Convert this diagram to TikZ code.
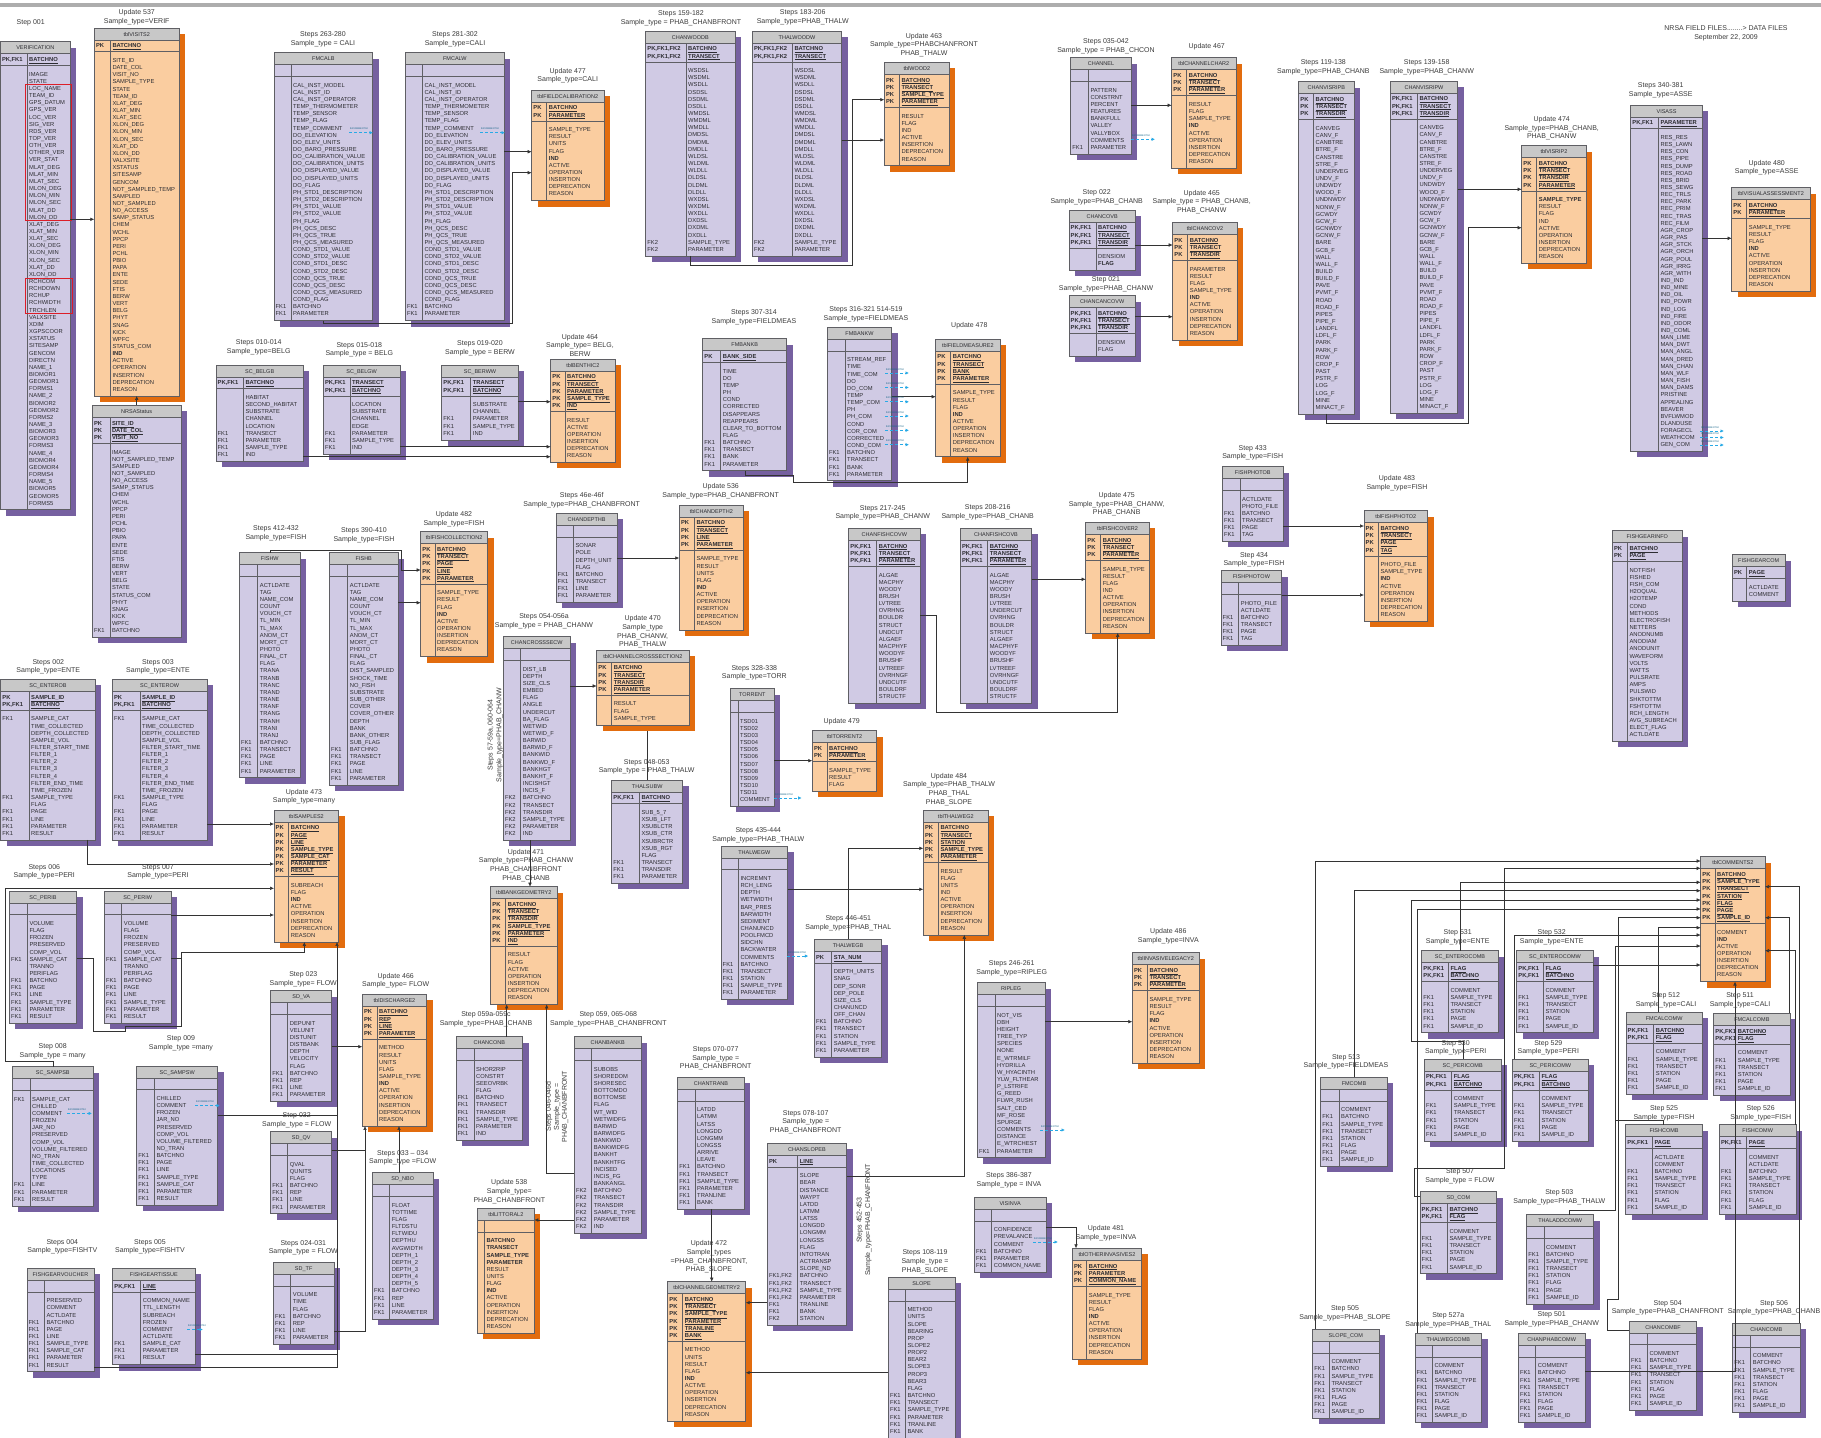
\documentclass[tikz,border=0pt]{standalone}
\usepackage{fontspec}
\setmainfont{Liberation Sans}
\usetikzlibrary{arrows.meta,fit}
\definecolor{Pfill}{RGB}{208,202,228}
\definecolor{Pshadow}{RGB}{118,96,160}
\definecolor{Ofill}{RGB}{250,205,160}
\definecolor{Oshadow}{RGB}{226,108,14}
\definecolor{ttlgray}{RGB}{200,200,200}
\definecolor{tline}{RGB}{95,95,100}
\definecolor{txt}{RGB}{45,45,50}
\definecolor{lbltxt}{RGB}{60,60,60}
\definecolor{cmtblue}{RGB}{40,170,230}
\definecolor{redbox}{RGB}{220,30,40}
\tikzset{
 tblline/.style={draw=tline, line width=0.5pt},
 tbltxt/.style={anchor=base west, inner sep=0pt, font=\fontsize{5.8}{7}\selectfont, text=txt},
 tbltitle/.style={anchor=base, inner sep=0pt, font=\fontsize{5.5}{7}\selectfont, text=txt},
 lbl/.style={anchor=base, inner sep=0pt, font=\fontsize{7}{8.6}\selectfont, text=lbltxt},
 conn/.style={draw=black!80, line width=0.55pt, -{Latex[length=4pt,width=3.6pt]}},
 wire/.style={draw=black!80, line width=0.55pt},
 cmt/.style={draw=cmtblue, line width=0.8pt, dash pattern=on 3pt off 2pt, -{Latex[length=3.5pt,width=3.5pt]}},
 cmtlbl/.style={anchor=base, inner sep=0pt, font=\fontsize{2.4}{3}\selectfont, text=cmtblue!60!black},
}
\newcount\tblnk \newcount\tblnb
\def\PF{PK,FK1}\def\PFF{PK,FK1,FK2}\def\FF{FK1,FK2}
\newcommand\dbtable[9]{%
  \global\tblnk=0 \global\tblnb=0
  \def\tblkeys{#7}%
  \ifx\tblkeys\empty\else\foreach \tKey/\tNam in {#7}{\global\advance\tblnk by 1 }\fi
  \foreach \tKey/\tNam in {#8}{\global\advance\tblnb by 1 }%
  \ifnum\tblnk=0 \def\tblnkeff{1}\else\edef\tblnkeff{\the\tblnk}\fi
  \pgfmathsetmacro\tXa{#2}%
  \pgfmathsetmacro\tYa{#3}%
  \pgfmathsetmacro\tXb{#2+#4}%
  \pgfmathsetmacro\tXk{#2+#5}%
  \pgfmathsetmacro\tYt{#3+12}%
  \pgfmathsetmacro\tYk{\tYt+4.5+\tblnkeff*7.15}%
  \pgfmathsetmacro\tYb{\tYk+8.2+\the\tblnb*7.15}%
  \fill[#9shadow] (\tXa+6,\tYa+6) rectangle (\tXb+6,\tYb+6);
  \fill[#9fill] (\tXa,\tYa) rectangle (\tXb,\tYb);
  \fill[ttlgray] (\tXa,\tYa) rectangle (\tXb,\tYt);
  \draw[tblline] (\tXa,\tYa) rectangle (\tXb,\tYb);
  \draw[tblline] (\tXa,\tYt) -- (\tXb,\tYt) (\tXa,\tYk) -- (\tXb,\tYk) (\tXk,\tYt) -- (\tXk,\tYb);
  \node[tbltitle] at ({(\tXa+\tXb)/2},\tYt-3.95) {#6};
  \ifx\tblkeys\empty\else
  \foreach \tKey/\tNam [count=\tIdx from 0] in {#7}{%
    \node[tbltxt] at (\tXa+1.5,\tYt+2.25+5.6+\tIdx*7.15) {\textbf{\tKey}};
    \node[tbltxt] at (\tXk+2,\tYt+2.25+5.6+\tIdx*7.15) {\textbf{\underline{\tNam}}};
  }\fi
  \foreach \tKey/\tNam [count=\tIdx from 0] in {#8}{%
    \node[tbltxt] at (\tXa+1.5,\tYk+5.2+5.6+\tIdx*7.15) {\tKey};
    \node[tbltxt] at (\tXk+2,\tYk+5.2+5.6+\tIdx*7.15) {\tNam};
  }%
  \path (\tXa,\tYa) coordinate (#1-nw) (\tXb,\tYb) coordinate (#1-se);
  \node[inner sep=0pt, outer sep=0pt, fit=(#1-nw)(#1-se)] (#1) {};
}
\newcommand\lab[3]{\foreach \lLine [count=\lIdx from 0] in {#3}{\node[lbl] at (#1,#2+\lIdx*8.6+2.5) {\lLine};}}
\newcommand\cmtarrow[3]{\draw[cmt] (#1,#3) -- (#2,#3); \node[cmtlbl] at ({#1+10},#3-3) {tblCOMMENTS2};}
\begin{document}
\catcode`\_=12
\begin{tikzpicture}[x=1pt,y=-1pt]
\useasboundingbox (0,0) rectangle (1821,1438);
\fill[white] (0,0) rectangle (1821,1438);
\fill[black!32] (0,3.3) rectangle (1821,6.7);

% ---------------- top-left
\dbtable{VERIFICATION}{0.3}{41.7}{70}{26.7}{VERIFICATION}{\PF/BATCHNO}{/IMAGE,/STATE,/LOC_NAME,/TEAM_ID,/GPS_DATUM,/GPS_VER,/LOC_VER,/SIG_VER,/RDS_VER,/TOP_VER,/OTH_VER,/OTHER_VER,/VER_STAT,/MLAT_DEG,/MLAT_MIN,/MLAT_SEC,/MLON_DEG,/MLON_MIN,/MLON_SEC,/MLAT_DD,/MLON_DD,/XLAT_DEG,/XLAT_MIN,/XLAT_SEC,/XLON_DEG,/XLON_MIN,/XLON_SEC,/XLAT_DD,/XLON_DD,/RCHCOM,/RCHDOWN,/RCHUP,/RCHWIDTH,/TRCHLEN,/VALXSITE,/XDIM,/XGPSCOOR,/XSTATUS,/SITESAMP,/GENCOM,/DIRECTN,/NAME_1,/BIOMOR1,/GEOMOR1,/FORMS1,/NAME_2,/BIOMOR2,/GEOMOR2,/FORMS2,/NAME_3,/BIOMOR3,/GEOMOR3,/FORMS3,/NAME_4,/BIOMOR4,/GEOMOR4,/FORMS4,/NAME_5,/BIOMOR5,/GEOMOR5,/FORMS5}{P}
\draw[redbox, line width=0.8pt] (25,84.5) rectangle (71.5,220.7) (25,277.9) rectangle (72,313.7);
\dbtable{tbVISITS2}{94.3}{28}{85}{16}{tblVISITS2}{PK/BATCHNO}{/SITE_ID,/DATE_COL,/VISIT_NO,/SAMPLE_TYPE,/STATE,/TEAM_ID,/XLAT_DEG,/XLAT_MIN,/XLAT_SEC,/XLON_DEG,/XLON_MIN,/XLON_SEC,/XLAT_DD,/XLON_DD,/VALXSITE,/XSTATUS,/SITESAMP,/GENCOM,/NOT_SAMPLED_TEMP,/SAMPLED,/NOT_SAMPLED,/NO_ACCESS,/SAMP_STATUS,/CHEM,/WCHL,/PPCP,/PERI,/PCHL,/PBIO,/PAPA,/ENTE,/SEDE,/FTIS,/BERW,/VERT,/BELG,/PHYT,/SNAG,/KICK,/WPFC,/STATUS_COM,/\textbf{IND},/ACTIVE,/OPERATION,/INSERTION,/DEPRECATION,/REASON}{O}
\dbtable{NRSAStatus}{92.3}{405.3}{88.7}{17.5}{NRSAStatus}{PK/SITE_ID,PK/DATE_COL,PK/VISIT_NO}{/IMAGE,/NOT_SAMPLED_TEMP,/SAMPLED,/NOT_SAMPLED,/NO_ACCESS,/SAMP_STATUS,/CHEM,/WCHL,/PPCP,/PERI,/PCHL,/PBIO,/PAPA,/ENTE,/SEDE,/FTIS,/BERW,/VERT,/BELG,/STATE,/STATUS_COM,/PHYT,/SNAG,/KICK,/WPFC,FK1/BATCHNO}{P}
\dbtable{FMCALB}{274}{52.7}{98.7}{17}{FMCALB}{}{/CAL_INST_MODEL,/CAL_INST_ID,/CAL_INST_OPERATOR,/TEMP_THERMOMETER,/TEMP_SENSOR,/TEMP_FLAG,/TEMP_COMMENT,/DO_ELEVATION,/DO_ELEV_UNITS,/DO_BARO_PRESSURE,/DO_CALIBRATION_VALUE,/DO_CALIBRATION_UNITS,/DO_DISPLAYED_VALUE,/DO_DISPLAYED_UNITS,/DO_FLAG,/PH_STD1_DESCRIPTION,/PH_STD2_DESCRIPTION,/PH_STD1_VALUE,/PH_STD2_VALUE,/PH_FLAG,/PH_QCS_DESC,/PH_QCS_TRUE,/PH_QCS_MEASURED,/COND_STD1_VALUE,/COND_STD2_VALUE,/COND_STD1_DESC,/COND_STD2_DESC,/COND_QCS_TRUE,/COND_QCS_DESC,/COND_QCS_MEASURED,/COND_FLAG,FK1/BATCHNO,FK1/PARAMETER}{P}
\dbtable{FMCALW}{405.3}{52.7}{99}{17}{FMCALW}{}{/CAL_INST_MODEL,/CAL_INST_ID,/CAL_INST_OPERATOR,/TEMP_THERMOMETER,/TEMP_SENSOR,/TEMP_FLAG,/TEMP_COMMENT,/DO_ELEVATION,/DO_ELEV_UNITS,/DO_BARO_PRESSURE,/DO_CALIBRATION_VALUE,/DO_CALIBRATION_UNITS,/DO_DISPLAYED_VALUE,/DO_DISPLAYED_UNITS,/DO_FLAG,/PH_STD1_DESCRIPTION,/PH_STD2_DESCRIPTION,/PH_STD1_VALUE,/PH_STD2_VALUE,/PH_FLAG,/PH_QCS_DESC,/PH_QCS_TRUE,/PH_QCS_MEASURED,/COND_STD1_VALUE,/COND_STD2_VALUE,/COND_STD1_DESC,/COND_STD2_DESC,/COND_QCS_TRUE,/COND_QCS_DESC,/COND_QCS_MEASURED,/COND_FLAG,FK1/BATCHNO,FK1/PARAMETER}{P}
\dbtable{tbFIELDCALIBRATION2}{531.7}{90}{72.3}{15}{tblFIELDCALIBRATION2}{PK/BATCHNO,PK/PARAMETER}{/SAMPLE_TYPE,/RESULT,/UNITS,/FLAG,/\textbf{IND},/ACTIVE,/OPERATION,/INSERTION,/DEPRECATION,/REASON}{O}
\dbtable{CHANWOODB}{645.7}{31}{89.3}{40.3}{CHANWOODB}{\PFF/BATCHNO,\PFF/TRANSECT}{/WSDSL,/WSDML,/WSDLL,/DSDSL,/DSDML,/DSDLL,/WMDSL,/WMDML,/WMDLL,/DMDSL,/DMDML,/DMDLL,/WLDSL,/WLDML,/WLDLL,/DLDSL,/DLDML,/DLDLL,/WXDSL,/WXDML,/WXDLL,/DXDSL,/DXDML,/DXDLL,FK2/SAMPLE_TYPE,FK2/PARAMETER}{P}
\dbtable{THALWOODW}{752.3}{31}{89.4}{40}{THALWOODW}{\PFF/BATCHNO,\PFF/TRANSECT}{/WSDSL,/WSDML,/WSDLL,/DSDSL,/DSDML,/DSDLL,/WMDSL,/WMDML,/WMDLL,/DMDSL,/DMDML,/DMDLL,/WLDSL,/WLDML,/WLDLL,/DLDSL,/DLDML,/DLDLL,/WXDSL,/WXDML,/WXDLL,/DXDSL,/DXDML,/DXDLL,FK2/SAMPLE_TYPE,FK2/PARAMETER}{P}
\dbtable{tbWOOD2}{884.3}{62.3}{65}{15}{tblWOOD2}{PK/BATCHNO,PK/TRANSECT,PK/SAMPLE_TYPE,PK/PARAMETER}{/RESULT,/FLAG,/IND,/ACTIVE,/INSERTION,/DEPRECATION,/REASON}{O}
\dbtable{CHANNEL}{1070.7}{57.7}{60.6}{17.6}{CHANNEL}{}{/PATTERN,/CONSTRNT,/PERCENT,/FEATURES,/BANKFULL,/VALLEY,/VALLYBOX,/COMMENTS,FK1/PARAMETER}{P}
\dbtable{tbCHANNELCHAR2}{1171.7}{57.7}{64.3}{15}{tblCHANNELCHAR2}{PK/BATCHNO,PK/TRANSECT,PK/PARAMETER}{/RESULT,/FLAG,/SAMPLE_TYPE,/\textbf{IND},/ACTIVE,/OPERATION,/INSERTION,/DEPRECATION,/REASON}{O}
\dbtable{CHANCOVB}{1069}{210}{66.3}{27}{CHANCOVB}{\PF/BATCHNO,\PF/TRANSECT,\PF/TRANSDIR}{/DENSIOM,/\textbf{FLAG}}{P}
\dbtable{CHANCANCOVW}{1069}{295.7}{66.3}{27}{CHANCANCOVW}{\PF/BATCHNO,\PF/TRANSECT,\PF/TRANSDIR}{/DENSIOM,/FLAG}{P}
\dbtable{tbCHANCOV2}{1172.7}{222.3}{64.7}{15}{tblCHANCOV2}{PK/BATCHNO,PK/TRANSECT,PK/TRANSDIR}{/PARAMETER,/RESULT,/FLAG,/SAMPLE_TYPE,/\textbf{IND},/ACTIVE,/OPERATION,/INSERTION,/DEPRECATION,/REASON}{O}
\dbtable{CHANVISRIPB}{1298.7}{81.7}{55.3}{14.7}{CHANVISRIPB}{PK/BATCHNO,PK/TRANSECT,PK/TRANSDIR}{/CANVEG,/CANV_F,/CANBTRE,/BTRE_F,/CANSTRE,/STRE_F,/UNDERVEG,/UNDV_F,/UNDWDY,/WOOD_F,/UNDNWDY,/NONW_F,/GCWDY,/GCW_F,/GCNWDY,/GCNW_F,/BARE,/GCB_F,/WALL,/WALL_F,/BUILD,/BUILD_F,/PAVE,/PVMT_F,/ROAD,/ROAD_F,/PIPES,/PIPE_F,/LANDFL,/LDFL_F,/PARK,/PARK_F,/ROW,/CROP_F,/PAST,/PSTR_F,/LOG,/LOG_F,/MINE,/MINACT_F}{P}
\dbtable{CHANVISRIPW}{1390.3}{81}{67.4}{27}{CHANVISRIPW}{\PF/BATCHNO,\PF/TRANSECT,\PF/TRANSDIR}{/CANVEG,/CANV_F,/CANBTRE,/BTRE_F,/CANSTRE,/STRE_F,/UNDERVEG,/UNDV_F,/UNDWDY,/WOOD_F,/UNDNWDY,/NONW_F,/GCWDY,/GCW_F,/GCNWDY,/GCNW_F,/BARE,/GCB_F,/WALL,/WALL_F,/BUILD,/BUILD_F,/PAVE,/PVMT_F,/ROAD,/ROAD_F,/PIPES,/PIPE_F,/LANDFL,/LDFL_F,/PARK,/PARK_F,/ROW,/CROP_F,/PAST,/PSTR_F,/LOG,/LOG_F,/MINE,/MINACT_F}{P}
\dbtable{tbVISRIP2}{1521.7}{145.7}{64.6}{15}{tblVISRIP2}{PK/BATCHNO,PK/TRANSECT,PK/TRANSDIR,PK/PARAMETER}{/\textbf{SAMPLE_TYPE},/RESULT,/FLAG,/IND,/ACTIVE,/OPERATION,/INSERTION,/DEPRECATION,/REASON}{O}
\dbtable{VISASS}{1630.7}{105}{71.6}{27.7}{VISASS}{\PF/PARAMETER}{/RES_RES,/RES_LAWN,/RES_CON,/RES_PIPE,/RES_DUMP,/RES_ROAD,/RES_BRID,/RES_SEWG,/REC_TRLS,/REC_PARK,/REC_PRIM,/REC_TRAS,/REC_FILM,/AGR_CROP,/AGR_PAS,/AGR_STCK,/AGR_ORCH,/AGR_POUL,/AGR_IRRG,/AGR_WITH,/IND_IND,/IND_MINE,/IND_OIL,/IND_POWR,/IND_LOG,/IND_FIRE,/IND_ODOR,/IND_COML,/MAN_LIME,/MAN_DWT,/MAN_ANGL,/MAN_DRED,/MAN_CHAN,/MAN_WLF,/MAN_FISH,/MAN_DAMS,/PRISTINE,/APPEALING,/BEAVER,/BVFLWMOD,/DLANDUSE,/FORAGECL,/WEATHCOM,/GEN_COM}{P}
\dbtable{tbVISUALASSESSMENT2}{1731.7}{187.7}{78.3}{15}{tblVISUALASSESSMENT2}{PK/BATCHNO,PK/PARAMETER}{/SAMPLE_TYPE,/RESULT,/FLAG,/\textbf{IND},/ACTIVE,/OPERATION,/INSERTION,/DEPRECATION,/REASON}{O}

% ---------------- second band
\dbtable{SC_BELGB}{216}{365}{87.3}{27.3}{SC_BELGB}{\PF/BATCHNO}{/HABITAT,/SECOND_HABITAT,/SUBSTRATE,/CHANNEL,/LOCATION,FK1/TRANSECT,FK1/PARAMETER,FK1/SAMPLE_TYPE,FK1/IND}{P}
\dbtable{SC_BELGW}{323.3}{365}{76.7}{26.7}{SC_BELGW}{\PF/TRANSECT,\PF/BATCHNO}{/LOCATION,/SUBSTRATE,/CHANNEL,/EDGE,FK1/PARAMETER,FK1/SAMPLE_TYPE,FK1/IND}{P}
\dbtable{SC_BERWW}{441.7}{365}{76.6}{29}{SC_BERWW}{\PF/TRANSECT,\PF/BATCHNO}{/SUBSTRATE,/CHANNEL,FK1/PARAMETER,FK1/SAMPLE_TYPE,FK1/IND}{P}
\dbtable{tbBENTHIC2}{550.7}{359}{64.3}{14.3}{tblBENTHIC2}{PK/BATCHNO,PK/TRANSECT,PK/PARAMETER,PK/SAMPLE_TYPE,PK/IND}{/RESULT,/ACTIVE,/OPERATION,/INSERTION,/DEPRECATION,/REASON}{O}
\dbtable{FMBANKB}{702.7}{338.7}{84}{18}{FMBANKB}{PK/BANK_SIDE}{/TIME,/DO,/TEMP,/PH,/COND,/CORRECTED,/DISAPPEARS,/REAPPEARS,/CLEAR_TO_BOTTOM,/FLAG,FK1/BATCHNO,FK1/TRANSECT,FK1/BANK,FK1/PARAMETER}{P}
\dbtable{FMBANKW}{827.3}{327.3}{64.4}{17.7}{FMBANKW}{}{/STREAM_REF,/TIME,/TIME_COM,/DO,/DO_COM,/TEMP,/TEMP_COM,/PH,/PH_COM,/COND,/COR_COM,/CORRECTED,/COND_COM,FK1/BATCHNO,FK1/TRANSECT,FK1/BANK,FK1/PARAMETER}{P}
\dbtable{tbFIELDMEASURE2}{935.7}{339}{64.3}{15}{tblFIELDMEASURE2}{PK/BATCHNO,PK/TRANSECT,PK/BANK,PK/PARAMETER}{/SAMPLE_TYPE,/RESULT,/FLAG,/\textbf{IND},/ACTIVE,/OPERATION,/INSERTION,/DEPRECATION,/REASON}{O}
\dbtable{FISHPHOTOB}{1222.3}{466.7}{61}{17.7}{FISHPHOTOB}{}{/ACTLDATE,/PHOTO_FILE,FK1/BATCHNO,FK1/TRANSECT,FK1/PAGE,FK1/TAG}{P}
\dbtable{FISHPHOTOW}{1221}{570.7}{60.7}{17.7}{FISHPHOTOW}{}{/PHOTO_FILE,/ACTLDATE,FK1/BATCHNO,FK1/TRANSECT,FK1/PAGE,FK1/TAG}{P}
\dbtable{tbFISHPHOTO2}{1364}{510.7}{63.7}{14.3}{tblFISHPHOTO2}{PK/BATCHNO,PK/TRANSECT,PK/PAGE,PK/TAG}{/PHOTO_FILE,/SAMPLE_TYPE,/\textbf{IND},/ACTIVE,/OPERATION,/INSERTION,/DEPRECATION,/REASON}{O}
\dbtable{FISHGEARINFO}{1612.3}{530.7}{70}{15}{FISHGEARINFO}{PK/BATCHNO,PK/PAGE}{/NOTFISH,/FISHED,/FISH_COM,/H2OQUAL,/H2OTEMP,/COND,/METHODS,/ELECTROFISH,/NETTERS,/ANODNUMB,/ANODIAM,/ANODUNIT,/WAVEFORM,/VOLTS,/WATTS,/PULSRATE,/AMPS,/PULSWID,/SHKTOTTM,/FSHTOTTM,/RCH_LENGTH,/AVG_SUBREACH,/ELECT_FLAG,/ACTLDATE}{P}
\dbtable{FISHGEARCOM}{1732.3}{554.7}{52.7}{14.4}{FISHGEARCOM}{PK/PAGE}{/ACTLDATE,/COMMENT}{P}

% ---------------- left middle
\dbtable{SC_ENTEROB}{0.7}{679.3}{94.6}{28.3}{SC_ENTEROB}{PK/SAMPLE_ID,\PF/BATCHNO}{FK1/SAMPLE_CAT,/TIME_COLLECTED,/DEPTH_COLLECTED,/SAMPLE_VOL,/FILTER_START_TIME,/FILTER_1,/FILTER_2,/FILTER_3,/FILTER_4,/FILTER_END_TIME,/TIME_FROZEN,FK1/SAMPLE_TYPE,/FLAG,FK1/PAGE,FK1/LINE,FK1/PARAMETER,FK1/RESULT}{P}
\dbtable{SC_ENTEROW}{112.3}{679.3}{94.7}{27.7}{SC_ENTEROW}{PK/SAMPLE_ID,\PF/BATCHNO}{FK1/SAMPLE_CAT,/TIME_COLLECTED,/DEPTH_COLLECTED,/SAMPLE_VOL,/FILTER_START_TIME,/FILTER_1,/FILTER_2,/FILTER_3,/FILTER_4,/FILTER_END_TIME,/TIME_FROZEN,FK1/SAMPLE_TYPE,/FLAG,FK1/PAGE,FK1/LINE,FK1/PARAMETER,FK1/RESULT}{P}
\dbtable{FISHW}{239.3}{552.7}{61}{18.4}{FISHW}{}{/ACTLDATE,/TAG,/NAME_COM,/COUNT,/VOUCH_CT,/TL_MIN,/TL_MAX,/ANOM_CT,/MORT_CT,/PHOTO,/FINAL_CT,/FLAG,/TRANA,/TRANB,/TRANC,/TRAND,/TRANE,/TRANF,/TRANG,/TRANH,/TRANI,/TRANJ,FK1/BATCHNO,FK1/TRANSECT,FK1/PAGE,FK1/LINE,FK1/PARAMETER}{P}
\dbtable{FISHB}{329.3}{552.7}{69}{18.4}{FISHB}{}{/ACTLDATE,/TAG,/NAME_COM,/COUNT,/VOUCH_CT,/TL_MIN,/TL_MAX,/ANOM_CT,/MORT_CT,/PHOTO,/FINAL_CT,/FLAG,/DIST_SAMPLED,/SHOCK_TIME,/NO_FISH,/SUBSTRATE,/SUB_OTHER,/COVER,/COVER_OTHER,/DEPTH,/BANK,/BANK_OTHER,/SUB_FLAG,FK1/BATCHNO,FK1/TRANSECT,FK1/PAGE,FK1/LINE,FK1/PARAMETER}{P}
\dbtable{tbFISHCOLLECTION2}{420.7}{531.7}{67}{14.3}{tblFISHCOLLECTION2}{PK/BATCHNO,PK/TRANSECT,PK/PAGE,PK/LINE,PK/PARAMETER}{/SAMPLE_TYPE,/RESULT,/FLAG,/\textbf{IND},/ACTIVE,/OPERATION,/INSERTION,/DEPRECATION,/REASON}{O}
\dbtable{tbSAMPLES2}{274}{810}{64.7}{14.7}{tblSAMPLES2}{PK/BATCHNO,PK/PAGE,PK/LINE,PK/SAMPLE_TYPE,PK/SAMPLE_CAT,PK/PARAMETER,PK/RESULT}{/SUBREACH,/FLAG,/\textbf{IND},/ACTIVE,/OPERATION,/INSERTION,/DEPRECATION,/REASON}{O}
\dbtable{SC_PERIB}{9.3}{891}{67.4}{18}{SC_PERIB}{}{/VOLUME,/FLAG,/FROZEN,/PRESERVED,/COMP_VOL,FK1/SAMPLE_CAT,/TRANNO,/PERIFLAG,FK1/BATCHNO,FK1/PAGE,FK1/LINE,FK1/SAMPLE_TYPE,FK1/PARAMETER,FK1/RESULT}{P}
\dbtable{SC_PERIW}{104.3}{891}{66.7}{17.4}{SC_PERIW}{}{/VOLUME,/FLAG,/FROZEN,/PRESERVED,/COMP_VOL,FK1/SAMPLE_CAT,/TRANNO,/PERIFLAG,FK1/BATCHNO,FK1/PAGE,FK1/LINE,FK1/SAMPLE_TYPE,FK1/PARAMETER,FK1/RESULT}{P}
\dbtable{SC_SAMPSB}{12.3}{1066.7}{81}{17.7}{SC_SAMPSB}{}{FK1/SAMPLE_CAT,/CHILLED,/COMMENT,/FROZEN,/JAR_NO,/PRESERVED,/COMP_VOL,/VOLUME_FILTERED,/NO_TRAN,/TIME_COLLECTED,/LOCATIONS,/TYPE,FK1/LINE,FK1/PARAMETER,FK1/RESULT}{P}
\dbtable{SC_SAMPSW}{136.7}{1066}{81}{17.6}{SC_SAMPSW}{}{/CHILLED,/COMMENT,/FROZEN,/JAR_NO,/PRESERVED,/COMP_VOL,/VOLUME_FILTERED,/NO_TRAN,FK1/BATCHNO,FK1/PAGE,FK1/LINE,FK1/SAMPLE_TYPE,FK1/SAMPLE_CAT,FK1/PARAMETER,FK1/RESULT}{P}
\dbtable{FISHGEARVOUCHER}{27}{1268.3}{67}{17.3}{FISHGEARVOUCHER}{}{/PRESERVED,/COMMENT,/ACTLDATE,FK1/BATCHNO,FK1/PAGE,FK1/LINE,FK1/SAMPLE_TYPE,FK1/SAMPLE_CAT,FK1/PARAMETER,FK1/RESULT}{P}
\dbtable{FISHGEARTISSUE}{112.7}{1268.3}{82.3}{28}{FISHGEARTISSUE}{\PF/LINE}{/COMMON_NAME,/TTL_LENGTH,/SUBREACH,/FROZEN,/COMMENT,/ACTLDATE,FK1/SAMPLE_CAT,FK1/PARAMETER,FK1/RESULT}{P}
\dbtable{SD_VA}{270.7}{990.7}{61}{17}{SD_VA}{}{/DEPUNIT,/VELUNIT,/DISTUNIT,/DISTBANK,/DEPTH,/VELOCITY,/FLAG,FK1/BATCHNO,FK1/REP,FK1/LINE,FK1/PARAMETER}{P}
\dbtable{SD_QV}{270.7}{1131.7}{61}{17}{SD_QV}{}{/QVAL,/QUNITS,/FLAG,FK1/BATCHNO,FK1/REP,FK1/LINE,FK1/PARAMETER}{P}
\dbtable{SD_TF}{273.3}{1262.3}{60.7}{17.4}{SD_TF}{}{/VOLUME,/TIME,/FLAG,FK1/BATCHNO,FK1/REP,FK1/LINE,FK1/PARAMETER}{P}
\dbtable{SD_NBO}{372.3}{1172.7}{61}{17.4}{SD_NBO}{}{/FLOAT,/TOTTIME,/FLAG,/FLTDSTU,/FLTWIDU,/DEPTHU,/AVGWIDTH,/DEPTH_1,/DEPTH_2,/DEPTH_3,/DEPTH_4,/DEPTH_5,FK1/BATCHNO,FK1/REP,FK1/LINE,FK1/PARAMETER}{P}
\dbtable{tbDISCHARGE2}{362.3}{994}{64.4}{14.6}{tblDISCHARGE2}{PK/BATCHNO,PK/REP,PK/LINE,PK/PARAMETER}{/METHOD,/RESULT,/UNITS,/FLAG,/SAMPLE_TYPE,/\textbf{IND},/ACTIVE,/OPERATION,/INSERTION,/DEPRECATION,/REASON}{O}

% ---------------- center
\dbtable{CHANDEPTHB}{556}{513.3}{61.3}{17.3}{CHANDEPTHB}{}{/SONAR,/POLE,/DEPTH_UNIT,/FLAG,FK1/BATCHNO,FK1/TRANSECT,FK1/LINE,FK1/PARAMETER}{P}
\dbtable{tbCHANDEPTH2}{679.3}{505}{64}{15}{tblCHANDEPTH2}{PK/BATCHNO,PK/TRANSECT,PK/LINE,PK/PARAMETER}{/SAMPLE_TYPE,/RESULT,/UNITS,/FLAG,/\textbf{IND},/ACTIVE,/OPERATION,/INSERTION,/DEPRECATION,/REASON}{O}
\dbtable{CHANCROSSSECW}{503.3}{636.7}{67}{17.4}{CHANCROSSSECW}{}{/DIST_LB,/DEPTH,/SIZE_CLS,/EMBED,/FLAG,/ANGLE,/UNDERCUT,/BA_FLAG,/WETWID,/WETWID_F,/BARWID,/BARWID_F,/BANKWID,/BANKWD_F,/BANKHGT,/BANKHT_F,/INCISHGT,/INCIS_F,FK2/BATCHNO,FK2/TRANSECT,FK2/TRANSDIR,FK2/SAMPLE_TYPE,FK2/PARAMETER,FK2/IND}{P}
\dbtable{tbCHANNELCROSSSECTION2}{596.7}{650}{92.3}{15}{tblCHANNELCROSSSECTION2}{PK/BATCHNO,PK/TRANSECT,PK/TRANSDIR,PK/PARAMETER}{/RESULT,/FLAG,/SAMPLE_TYPE}{O}
\dbtable{THALSUBW}{611.7}{780}{71}{27.6}{THALSUBW}{\PF/BATCHNO}{/SUB_5_7,/XSUB_LFT,/XSUBLCTR,/XSUB_CTR,/XSUBRCTR,/XSUB_RGT,/FLAG,FK1/TRANSECT,FK1/TRANSDIR,FK1/PARAMETER}{P}
\dbtable{TORRENT}{730.3}{688.7}{44}{7.5}{TORRENT}{}{/TSD01,/TSD02,/TSD03,/TSD04,/TSD05,/TSD06,/TSD07,/TSD08,/TSD09,/TSD10,/TSD11,/COMMENT}{P}
\dbtable{tbTORRENT2}{812.3}{730.7}{64.4}{14.7}{tblTORRENT2}{PK/BATCHNO,PK/PARAMETER}{/SAMPLE_TYPE,/RESULT,/FLAG}{O}
\dbtable{CHANFISHCOVW}{848.7}{528.3}{71.3}{28}{CHANFISHCOVW}{\PF/BATCHNO,\PF/TRANSECT,\PF/PARAMETER}{/ALGAE,/MACPHY,/WOODY,/BRUSH,/LVTREE,/OVRHNG,/BOULDR,/STRUCT,/UNDCUT,/ALGAEF,/MACPHYF,/WOODYF,/BRUSHF,/LVTREEF,/OVRHNGF,/UNDCUTF,/BOULDRF,/STRUCTF}{P}
\dbtable{CHANFISHCOVB}{960.3}{528.3}{71.4}{27.4}{CHANFISHCOVB}{\PF/BATCHNO,\PF/TRANSECT,\PF/PARAMETER}{/ALGAE,/MACPHY,/WOODY,/BRUSH,/LVTREE,/UNDERCUT,/OVRHNG,/BOULDR,/STRUCT,/ALGAEF,/MACPHYF,/WOODYF,/BRUSHF,/LVTREEF,/OVRHNGF,/UNDCUTF,/BOULDRF,/STRUCTF}{P}
\dbtable{tbFISHCOVER2}{1085.7}{522.3}{63.6}{15}{tblFISHCOVER2}{PK/BATCHNO,PK/TRANSECT,PK/PARAMETER}{/SAMPLE_TYPE,/RESULT,/FLAG,/IND,/ACTIVE,/OPERATION,/INSERTION,/DEPRECATION,/REASON}{O}
\dbtable{THALWEGW}{721}{846}{66.7}{17.3}{THALWEGW}{}{/INCREMNT,/RCH_LENG,/DEPTH,/WETWIDTH,/BAR_PRES,/BARWIDTH,/SEDIMENT,/CHANUNCD,/POOLFMCD,/SIDCHN,/BACKWATER,/COMMENTS,FK1/BATCHNO,FK1/TRANSECT,FK1/STATION,FK1/SAMPLE_TYPE,FK1/PARAMETER}{P}
\dbtable{THALWEGB}{814.3}{939.3}{67.4}{17.4}{THALWEGB}{PK/STA_NUM}{/DEPTH_UNITS,/SNAG,/DEP_SONR,/DEP_POLE,/SIZE_CLS,/CHANUNCD,/OFF_CHAN,FK1/BATCHNO,FK1/TRANSECT,FK1/STATION,FK1/SAMPLE_TYPE,FK1/PARAMETER}{P}
\dbtable{tbTHALWEG2}{923.3}{810}{65}{15}{tblTHALWEG2}{PK/BATCHNO,PK/TRANSECT,PK/STATION,PK/SAMPLE_TYPE,PK/PARAMETER}{/RESULT,/FLAG,/UNITS,/IND,/ACTIVE,/OPERATION,/INSERTION,/DEPRECATION,/REASON}{O}
\dbtable{SLOPE}{888.3}{1277.3}{66.7}{17}{SLOPE}{}{/METHOD,/UNITS,/SLOPE,/BEARING,/PROP,/SLOPE2,/PROP2,/BEAR2,/SLOPE3,/PROP3,/BEAR3,/FLAG,FK1/BATCHNO,FK1/TRANSECT,FK1/SAMPLE_TYPE,FK1/PARAMETER,FK1/TRANLINE,FK1/BANK}{P}
\dbtable{CHANSLOPEB}{767.3}{1143.3}{79.4}{30.4}{CHANSLOPEB}{PK/LINE}{/SLOPE,/BEAR,/DISTANCE,/WAYPT,/LATDD,/LATMM,/LATSS,/LONGDD,/LONGMM,/LONGSS,/FLAG,/INTOTRAN,/ACTRANSP,/SLOPE_ND,\FF/BATCHNO,\FF/TRANSECT,\FF/SAMPLE_TYPE,\FF/PARAMETER,FK1/TRANLINE,FK1/BANK,FK2/STATION}{P}
\dbtable{CHANTRANB}{677.7}{1077.3}{66.6}{17.3}{CHANTRANB}{}{/LATDD,/LATMM,/LATSS,/LONGDD,/LONGMM,/LONGSS,/ARRIVE,/LEAVE,FK1/BATCHNO,FK1/TRANSECT,FK1/SAMPLE_TYPE,FK1/PARAMETER,FK1/TRANLINE,FK1/BANK}{P}
\dbtable{tbCHANNELGEOMETRY2}{667.7}{1281.7}{78}{15}{tblCHANNELGEOMETRY2}{PK/BATCHNO,PK/TRANSECT,PK/SAMPLE_TYPE,PK/PARAMETER,PK/TRANLINE,PK/BANK}{/METHOD,/UNITS,/RESULT,/FLAG,/\textbf{IND},/ACTIVE,/OPERATION,/INSERTION,/DEPRECATION,/REASON}{O}
\dbtable{CHANCONB}{456}{1036.7}{66.7}{18}{CHANCONB}{}{/SHOR2RIP,/CONSTRT,/SEEOVRBK,/FLAG,FK1/BATCHNO,FK1/TRANSECT,FK1/TRANSDIR,FK1/SAMPLE_TYPE,FK1/PARAMETER,FK1/IND}{P}
\dbtable{CHANBANKB}{574.3}{1036.7}{66.7}{17.4}{CHANBANKB}{}{/SUBOBS,/SHOREDOM,/SHORESEC,/BOTTOMDO,/BOTTOMSE,/FLAG,/WT_WID,/WETWIDFG,/BARWID,/BARWIDFG,/BANKWID,/BANKWIDFG,/BANKHT,/BANKHTFG,/INCISED,/INCIS_FG,/BANKANGL,FK2/BATCHNO,FK2/TRANSECT,FK2/TRANSDIR,FK2/SAMPLE_TYPE,FK2/PARAMETER,FK2/IND}{P}
\dbtable{tbBANKGEOMETRY2}{490.7}{886.7}{66.3}{15}{tblBANKGEOMETRY2}{PK/BATCHNO,PK/TRANSECT,PK/TRANSDIR,PK/SAMPLE_TYPE,PK/PARAMETER,PK/IND}{/RESULT,/FLAG,/ACTIVE,/OPERATION,/INSERTION,/DEPRECATION,/REASON}{O}
\dbtable{tbLITTORAL2}{477.3}{1208.3}{57}{7}{tblLITTORAL2}{}{/\textbf{BATCHNO},/\textbf{TRANSECT},/\textbf{SAMPLE_TYPE},/\textbf{PARAMETER},/RESULT,/UNITS,/FLAG,/\textbf{IND},/ACTIVE,/OPERATION,/INSERTION,/DEPRECATION,/REASON}{O}
\dbtable{RIPLEG}{977.3}{982.7}{67.7}{17.7}{RIPLEG}{}{/NOT_VIS,/DBH,/HEIGHT,/TREE_TYP,/SPECIES,/NONE,/E_WTRMILF,/HYDRILLA,/W_HYACINTH,/YLW_FLTHEAR,/P_LSTRIFE,/G_REED,/FLWR_RUSH,/SALT_CED,/MF_ROSE,/SPURGE,/COMMENTS,/DISTANCE,/E_WTRCHEST,FK1/PARAMETER}{P}
\dbtable{tbINVASIVELEGACY2}{1132.3}{952.7}{67}{15}{tblINVASIVELEGACY2}{PK/BATCHNO,PK/TRANSECT,PK/PARAMETER}{/SAMPLE_TYPE,/RESULT,/FLAG,/\textbf{IND},/ACTIVE,/OPERATION,/INSERTION,/DEPRECATION,/REASON}{O}
\dbtable{VISINVA}{974.3}{1197.3}{71.7}{17.4}{VISINVA}{}{/CONFIDENCE,/PREVALANCE,/COMMENT,FK1/BATCHNO,FK1/PARAMETER,FK1/COMMON_NAME}{P}
\dbtable{tbOTHERINVASIVES2}{1072.3}{1248.3}{69.4}{14.4}{tblOTHERINVASIVES2}{PK/BATCHNO,PK/PARAMETER,PK/COMMON_NAME}{/SAMPLE_TYPE,/RESULT,/FLAG,/\textbf{IND},/ACTIVE,/OPERATION,/INSERTION,/DEPRECATION,/REASON}{O}

% ---------------- comments area
\dbtable{tbCOMMENTS2}{1700.7}{856.7}{64.3}{14.3}{tblCOMMENTS2}{PK/BATCHNO,PK/SAMPLE_TYPE,PK/TRANSECT,PK/STATION,PK/FLAG,PK/PAGE,PK/SAMPLE_ID}{/COMMENT,/\textbf{IND},/ACTIVE,/OPERATION,/INSERTION,/DEPRECATION,/REASON}{O}
\dbtable{SC_ENTEROCOMB}{1421.7}{950.7}{76.6}{26.6}{SC_ENTEROCOMB}{\PF/FLAG,\PF/BATCHNO}{/COMMENT,FK1/SAMPLE_TYPE,FK1/TRANSECT,FK1/STATION,FK1/PAGE,FK1/SAMPLE_ID}{P}
\dbtable{SC_ENTEROCOMW}{1516.7}{950.7}{76.6}{26.6}{SC_ENTEROCOMW}{\PF/FLAG,\PF/BATCHNO}{/COMMENT,FK1/SAMPLE_TYPE,FK1/TRANSECT,FK1/STATION,FK1/PAGE,FK1/SAMPLE_ID}{P}
\dbtable{SC_PERICOMB}{1424.3}{1059}{76.7}{27.4}{SC_PERICOMB}{\PF/FLAG,\PF/BATCHNO}{/COMMENT,FK1/SAMPLE_TYPE,FK1/TRANSECT,FK1/STATION,FK1/PAGE,FK1/SAMPLE_ID}{P}
\dbtable{SC_PERICOMW}{1512.3}{1059}{76}{27}{SC_PERICOMW}{\PF/FLAG,\PF/BATCHNO}{/COMMENT,FK1/SAMPLE_TYPE,FK1/TRANSECT,FK1/STATION,FK1/PAGE,FK1/SAMPLE_ID}{P}
\dbtable{SD_COM}{1420}{1191.7}{76.7}{27.3}{SD_COM}{\PF/BATCHNO,\PF/FLAG}{/COMMENT,FK1/SAMPLE_TYPE,FK1/TRANSECT,FK1/STATION,FK1/PAGE,FK1/SAMPLE_ID}{P}
\dbtable{THALADDCOMW}{1526.7}{1214.7}{67}{17.3}{THALADDCOMW}{}{/COMMENT,FK1/BATCHNO,FK1/SAMPLE_TYPE,FK1/TRANSECT,FK1/STATION,FK1/FLAG,FK1/PAGE,FK1/SAMPLE_ID}{P}
\dbtable{FMCALCOMW}{1626}{1012.3}{76.3}{27.7}{FMCALCOMW}{\PF/BATCHNO,\PF/FLAG}{/COMMENT,FK1/SAMPLE_TYPE,FK1/TRANSECT,FK1/STATION,FK1/PAGE,FK1/SAMPLE_ID}{P}
\dbtable{FMCALCOMB}{1713.7}{1013.3}{76.3}{22}{FMCALCOMB}{\PF/BATCHNO,\PF/FLAG}{/COMMENT,FK1/SAMPLE_TYPE,FK1/TRANSECT,FK1/STATION,FK1/PAGE,FK1/SAMPLE_ID}{P}
\dbtable{FISHCOMB}{1625.7}{1124.7}{76.6}{26.6}{FISHCOMB}{\PF/PAGE}{/ACTLDATE,/COMMENT,FK1/BATCHNO,FK1/SAMPLE_TYPE,FK1/TRANSECT,FK1/STATION,FK1/FLAG,FK1/SAMPLE_ID}{P}
\dbtable{FISHCOMW}{1719.3}{1124.7}{76.7}{27.4}{FISHCOMW}{\PF/PAGE}{/COMMENT,/ACTLDATE,FK1/BATCHNO,FK1/SAMPLE_TYPE,FK1/TRANSECT,FK1/STATION,FK1/FLAG,FK1/SAMPLE_ID}{P}
\dbtable{CHANCOMBF}{1629.3}{1321}{67.4}{18}{CHANCOMBF}{}{/COMMENT,FK1/BATCHNO,FK1/SAMPLE_TYPE,FK1/TRANSECT,FK1/STATION,FK1/FLAG,FK1/PAGE,FK1/SAMPLE_ID}{P}
\dbtable{CHANCOMB}{1732.7}{1323.3}{67.3}{18}{CHANCOMB}{}{/COMMENT,FK1/BATCHNO,FK1/SAMPLE_TYPE,FK1/TRANSECT,FK1/STATION,FK1/FLAG,FK1/PAGE,FK1/SAMPLE_ID}{P}
\dbtable{THALWEGCOMB}{1415}{1333.3}{66.7}{17.3}{THALWEGCOMB}{}{/COMMENT,FK1/BATCHNO,FK1/SAMPLE_TYPE,FK1/TRANSECT,FK1/STATION,FK1/FLAG,FK1/PAGE,FK1/SAMPLE_ID}{P}
\dbtable{CHANPHABCOMW}{1518.3}{1333.3}{66.7}{17.4}{CHANPHABCOMW}{}{/COMMENT,FK1/BATCHNO,FK1/SAMPLE_TYPE,FK1/TRANSECT,FK1/STATION,FK1/FLAG,FK1/PAGE,FK1/SAMPLE_ID}{P}
\dbtable{FMCOMB}{1320.7}{1077.3}{66.6}{18.3}{FMCOMB}{}{/COMMENT,FK1/BATCHNO,FK1/SAMPLE_TYPE,FK1/TRANSECT,FK1/STATION,FK1/FLAG,FK1/PAGE,FK1/SAMPLE_ID}{P}
\dbtable{SLOPE_COM}{1312.7}{1329.3}{66.3}{16.6}{SLOPE_COM}{}{/COMMENT,FK1/BATCHNO,FK1/SAMPLE_TYPE,FK1/TRANSECT,FK1/STATION,FK1/FLAG,FK1/PAGE,FK1/SAMPLE_ID}{P}

% ---------------- connectors
\draw[conn] (VERIFICATION.east |- 0,219.3) -- (tbVISITS2.west |- 0,219.3);
\draw[conn] (NRSAStatus.north -| 136.7,0) -- (tbVISITS2.south -| 136.7,0);
\draw[conn] (FMCALB.south -| 323.3,0) -- (323.3,323.3) -- (512,323.3) -- (512,172.7) -- (tbFIELDCALIBRATION2.west |- 0,172.7);
\draw[conn] (FMCALW.east |- 0,151.7) -- (tbFIELDCALIBRATION2.west |- 0,151.7);
\draw[conn] (CHANWOODB.south -| 690.3,0) -- (690.3,265.7) -- (852.3,265.7) -- (852.3,99.7) -- (tbWOOD2.west |- 0,99.7);
\draw[conn] (THALWOODW.east |- 0,140) -- (tbWOOD2.west |- 0,140);
\draw[conn] (CHANNEL.east |- 0,105.3) -- (tbCHANNELCHAR2.west |- 0,105.3);
\draw[conn] (CHANCOVB.east |- 0,245) -- (tbCHANCOV2.west |- 0,245);
\draw[conn] (CHANCANCOVW.east |- 0,316.7) -- (tbCHANCOV2.west |- 0,316.7);
\draw[conn] (CHANVISRIPB.south -| 1326.7,0) -- (1326.7,423.3) -- (1468.3,423.3) -- (1468.3,227.7) -- (tbVISRIP2.west |- 0,227.7);
\draw[conn] (CHANVISRIPW.east |- 0,189.3) -- (tbVISRIP2.west |- 0,189.3);
\draw[conn] (VISASS.east |- 0,238.3) -- (tbVISUALASSESSMENT2.west |- 0,238.3);
\draw[conn] (SC_BERWW.east |- 0,401.7) -- (tbBENTHIC2.west |- 0,401.7);
\draw[conn] (SC_BELGW.east |- 0,446.7) -- (tbBENTHIC2.west |- 0,446.7);
\draw[conn] (SC_BELGB.east |- 0,456.7) -- (tbBENTHIC2.west |- 0,456.7);
\draw[conn] (FMBANKB.south -| 745,0) -- (745,475) -- (793.3,475) -- (793.3,482.5) -- (967.7,482.5) -- (tbFIELDMEASURE2.south -| 967.7,0);
\draw[conn] (FMBANKW.east |- 0,396.7) -- (tbFIELDMEASURE2.west |- 0,396.7);
\draw[conn] (FISHPHOTOB.east |- 0,526) -- (tbFISHPHOTO2.west |- 0,526);
\draw[conn] (FISHPHOTOW.east |- 0,595) -- (tbFISHPHOTO2.west |- 0,595);
\draw[conn] (FISHW.north -| 270,0) -- (270,550) -- (401.7,550) -- (401.7,570) -- (tbFISHCOLLECTION2.west |- 0,570);
\draw[conn] (FISHB.east |- 0,602.7) -- (tbFISHCOLLECTION2.west |- 0,602.7);
\draw[conn] (SC_ENTEROW.east |- 0,824) -- (tbSAMPLES2.west |- 0,824);
\draw[conn] (SC_ENTEROB.south -| 87.3,0) -- (87.3,864) -- (tbSAMPLES2.west |- 0,864);
\draw[conn] (SC_SAMPSB.north -| 53.3,0) -- (53.3,1061.7) -- (5,1061.7) -- (5,888.3) -- (tbSAMPLES2.west |- 0,888.3);
\draw[conn] (SC_PERIW.east |- 0,915) -- (tbSAMPLES2.west |- 0,915);
\draw[conn] (SC_PERIB.east |- 0,958) -- (93.3,958) -- (93.3,1031.7) -- (125,1031.7) -- (125,1026.7) -- (181.7,1026.7) -- (181.7,952.7) -- (304.3,952.7) -- (tbSAMPLES2.south -| 304.3,0);
\draw[wire] (SC_PERIW.east |- 0,958) -- (181.7,958);
\draw[conn] (FISHGEARVOUCHER.east |- 0,1367) -- (337,1367) -- (tbSAMPLES2.south -| 337,0);
\draw[wire] (SC_SAMPSW.east |- 0,1115) -- (337,1115);
\draw[wire] (FISHGEARTISSUE.east |- 0,1354.3) -- (337,1354.3);
\draw[conn] (SD_VA.east |- 0,1046.7) -- (tbDISCHARGE2.west |- 0,1046.7);
\draw[conn] (SD_QV.east |- 0,1150.7) -- (365,1150.7) -- (tbDISCHARGE2.south -| 365,0);
\draw[wire] (SD_TF.east |- 0,1331.7) -- (365,1331.7) -- (365,1150.7);
\draw[conn] (SD_NBO.north -| 399,0) -- (tbDISCHARGE2.south -| 399,0);
\draw[conn] (CHANDEPTHB.east |- 0,558) -- (tbCHANDEPTH2.west |- 0,558);
\draw[conn] (CHANCROSSSECW.east |- 0,686) -- (tbCHANNELCROSSSECTION2.west |- 0,686);
\draw[wire] (THALSUBW.north -| 647.3,0) -- (647.3,730.8);
\draw[conn] (CHANCROSSSECW.south -| 530,0) -- (tbBANKGEOMETRY2.north -| 530,0);
\draw[conn] (TORRENT.east |- 0,760.7) -- (tbTORRENT2.west |- 0,760.7);
\draw[conn] (CHANFISHCOVB.east |- 0,579.3) -- (tbFISHCOVER2.west |- 0,579.3);
\draw[conn] (CHANFISHCOVW.east |- 0,615) -- (936.3,615) -- (936.3,712.3) -- (1117.7,712.3) -- (tbFISHCOVER2.south -| 1117.7,0);
\draw[conn] (THALWEGW.east |- 0,889.3) -- (tbTHALWEG2.west |- 0,889.3);
\draw[conn] (THALWEGB.north -| 848.3,0) -- (848.3,848.3) -- (tbTHALWEG2.west |- 0,848.3);
\draw[conn] (CHANSLOPEB.east |- 0,1176.7) -- (964.3,1176.7) -- (tbTHALWEG2.south -| 964.3,0);
\draw[conn] (CHANTRANB.south -| 711.7,0) -- (tbCHANNELGEOMETRY2.north -| 711.7,0);
\draw[conn] (CHANSLOPEB.west |- 0,1302.7) -- (tbCHANNELGEOMETRY2.east |- 0,1302.7);
\draw[conn] (SLOPE.west |- 0,1372.7) -- (tbCHANNELGEOMETRY2.east |- 0,1372.7);
\draw[conn] (CHANCONB.north -| 506.7,0) -- (tbBANKGEOMETRY2.south -| 506.7,0);
\draw[conn] (CHANBANKB.west |- 0,1173.3) -- (546.7,1173.3) -- (tbBANKGEOMETRY2.south -| 546.7,0);
\draw[conn] (CHANBANKB.west |- 0,1220) -- (tbLITTORAL2.east |- 0,1220);
\draw[conn] (RIPLEG.east |- 0,1021.7) -- (tbINVASIVELEGACY2.west |- 0,1021.7);
\draw[conn] (VISINVA.east |- 0,1227.7) -- (1076,1227.7) -- (tbOTHERINVASIVES2.north -| 1076,0);
% comments
\draw[conn] (SLOPE_COM.north -| 1315,0) -- (1315,861) -- (tbCOMMENTS2.west |- 0,861);
\draw[conn] (FMCOMB.north -| 1354,0) -- (1354,890.7) -- (tbCOMMENTS2.west |- 0,890.7);
\draw[conn] (SC_ENTEROCOMB.north -| 1460.7,0) -- (1460.7,882.3) -- (tbCOMMENTS2.west |- 0,882.3);
\draw[conn] (SD_COM.west |- 0,1196) -- (1414,1196) -- (1414,1168.3) -- (1504.3,1168.3) -- (1504.3,868.3) -- (tbCOMMENTS2.west |- 0,868.3);
\draw[conn] (SC_PERICOMB.north -| 1463,0) -- (1463,1041) -- (1411.5,1041) -- (1411.5,900) -- (tbCOMMENTS2.west |- 0,900);
\draw[conn] (THALWEGCOMB.north -| 1417,0) -- (1417,909) -- (tbCOMMENTS2.west |- 0,909);
\draw[conn] (SC_PERICOMW.north -| 1514,0) -- (1514,935) -- (tbCOMMENTS2.west |- 0,935);
\draw[conn] (SC_ENTEROCOMW.east |- 0,965) -- (tbCOMMENTS2.west |- 0,965);
\draw[conn] (THALADDCOMW.north -| 1569,0) -- (1569,1210) -- (1615,1210) -- (1615,946) -- (tbCOMMENTS2.west |- 0,946);
\draw[wire] (FISHCOMB.north -| 1663,0) -- (1663,1120) -- (1615,1120);
\draw[conn] (CHANCOMBF.west |- 0,1330) -- (1607.7,1330) -- (1607.7,1299.3) -- (1618.3,1299.3) -- (1618.3,917.7) -- (tbCOMMENTS2.west |- 0,917.7);
\draw[conn] (FMCALCOMW.north -| 1658.3,0) -- (1658.3,927.7) -- (tbCOMMENTS2.west |- 0,927.7);
\draw[conn] (CHANPHABCOMW.east |- 0,1371.7) -- (1735,1371.7) -- (tbCOMMENTS2.south -| 1735,0);
\draw[conn] (CHANCOMB.north -| 1799.3,0) -- (1799.3,886.7) -- (tbCOMMENTS2.east |- 0,886.7);
\draw[conn] (FMCALCOMB.north -| 1789.3,0) -- (1789.3,917.7) -- (tbCOMMENTS2.east |- 0,917.7);
\draw[conn] (FISHCOMW.north -| 1795,0) -- (1795,950.7) -- (tbCOMMENTS2.east |- 0,950.7);

% blue comment links
\cmtarrow{349}{373}{132.7}
\cmtarrow{480}{505}{132.7}
\cmtarrow{1131}{1155}{139.3}
\cmtarrow{885}{909}{373}
\cmtarrow{885}{909}{387.5}
\cmtarrow{885}{909}{401.8}
\cmtarrow{885}{909}{416}
\cmtarrow{885}{909}{430.3}
\cmtarrow{885}{909}{444.7}
\cmtarrow{1700}{1724}{431}
\cmtarrow{1700}{1724}{437.5}
\cmtarrow{1700}{1724}{445}
\cmtarrow{774}{801.7}{798}
\cmtarrow{787}{808.3}{956}
\cmtarrow{1040}{1065}{1130}
\cmtarrow{1033}{1058}{1242}
\cmtarrow{67}{92}{1113.4}
\cmtarrow{195}{220}{1105.6}
\cmtarrow{187}{203}{1329.5}

% ---------------- labels
\node[lbl] at (1726,30.8) {NRSA FIELD FILES........> DATA FILES};
\node[lbl] at (1726,39.4) {September 22, 2009};
\lab{30.7}{21.7}{Step 001}
\lab{136.7}{12.3}{Update 537,Sample_type=VERIF}
\lab{323}{34}{Steps 263-280,Sample_type = CALI}
\lab{455}{34}{Steps 281-302,Sample_type=CALI}
\lab{567.7}{70.7}{Update 477,Sample_type=CALI}
\lab{681}{13.3}{Steps 159-182,Sample_type = PHAB_CHANBFRONT}
\lab{802.7}{12.3}{Steps 183-206,Sample_type=PHAB_THALW}
\lab{924}{35.7}{Update 463,Sample_type=PHABCHANFRONT,PHAB_THALW}
\lab{1106}{41.3}{Steps 035-042,Sample_type = PHAB_CHCON}
\lab{1206.7}{45.7}{Update 467}
\lab{1096.7}{192}{Step 022,Sample_type=PHAB_CHANB}
\lab{1201.7}{192.7}{Update 465,{Sample_type = PHAB_CHANB,},PHAB_CHANW}
\lab{1106}{279.3}{Step 021,Sample_type=PHAB_CHANW}
\lab{1323.3}{62.3}{Steps 119-138,Sample_type=PHAB_CHANB}
\lab{1426.7}{62}{Steps 139-158,Sample_type=PHAB_CHANW}
\lab{1551.7}{119}{Update 474,{Sample_type=PHAB_CHANB,},PHAB_CHANW}
\lab{1660.7}{85.3}{Steps 340-381,Sample_type=ASSE}
\lab{1766.7}{162.7}{Update 480,Sample_type=ASSE}
\lab{258.7}{342}{Steps 010-014,Sample_type=BELG}
\lab{359.3}{344.7}{Steps 015-018,Sample_type = BELG}
\lab{480}{343.3}{Steps 019-020,Sample_type = BERW}
\lab{580}{336.7}{Update 464,{Sample_type= BELG,},BERW}
\lab{754}{312.3}{Steps 307-314,Sample_type=FIELDMEAS}
\lab{866}{309}{Steps 316-321 514-519,Sample_type=FIELDMEAS}
\lab{969.3}{325}{Update 478}
\lab{1252.7}{447.7}{Step  433,Sample_type=FISH}
\lab{1254}{554.7}{Step  434,Sample_type=FISH}
\lab{1397}{478.3}{Update 483,Sample_type=FISH}
\lab{48.3}{661.7}{Steps 002,Sample_type=ENTE}
\lab{158}{661.7}{Steps 003,Sample_type=ENTE}
\lab{276}{528.3}{Steps 412-432,Sample_type=FISH}
\lab{364}{530}{Steps 390-410,Sample_type=FISH}
\lab{454}{514.3}{Update 482,Sample_type=FISH}
\lab{304}{791.7}{Update 473,Sample_type=many}
\lab{44.3}{866.7}{Steps 006,Sample_type=PERI}
\lab{158}{866.7}{Steps 007,Sample_type=PERI}
\lab{52.7}{1046}{Step 008,Sample_type = many}
\lab{181}{1038.3}{Step 009,Sample_type =many}
\lab{62.3}{1241.7}{Steps 004,Sample_type=FISHTV}
\lab{150}{1241.7}{Steps 005,Sample_type=FISHTV}
\lab{303.3}{974}{Step 023,Sample_type= FLOW}
\lab{296.7}{1115.3}{Step 032,Sample_type = FLOW}
\lab{303.3}{1242.7}{Steps 024-031,Sample_type = FLOW}
\lab{402.7}{1152.7}{Steps 033 -- 034,Sample_type =FLOW}
\lab{395.7}{975.7}{Update 466,Sample_type= FLOW}
\lab{581.7}{495}{Steps 46e-46f,Sample_type=PHAB_CHANBFRONT}
\lab{720.7}{486.3}{Update 536,Sample_type=PHAB_CHANBFRONT}
\lab{544}{616}{Steps 054-056a,Sample_type = PHAB_CHANW}
\lab{642.7}{618.3}{Update 470,Sample_type,{PHAB_CHANW,},PHAB_THALW}
\lab{646.7}{761.7}{Steps 048-053,Sample_type = PHAB_THALW}
\lab{754.3}{667.7}{Steps 328-338,Sample_type=TORR}
\lab{841.7}{721}{Update 479}
\lab{882.7}{507.7}{Steps 217-245,Sample_type=PHAB_CHANW}
\lab{987.7}{507.3}{Steps 208-216,Sample_type=PHAB_CHANB}
\lab{1116.7}{495}{Update 475,{Sample_type=PHAB_CHANW,},PHAB_CHANB}
\lab{758.3}{830}{Steps 435-444,Sample_type=PHAB_THALW}
\lab{848.3}{918.3}{Steps 446-451,Sample_type=PHAB_THAL}
\lab{949}{775.7}{Update 484,Sample_type=PHAB_THALW,PHAB_THAL,PHAB_SLOPE}
\lab{925}{1252.3}{Steps 108-119,Sample_type =,PHAB_SLOPE}
\lab{805.7}{1112.7}{Steps 078-107,Sample_type =,PHAB_CHANBFRONT}
\lab{715.7}{1049}{Steps 070-077,Sample_type =,PHAB_CHANBFRONT}
\lab{709}{1243.3}{Update 472,Sample_types,{=PHAB_CHANBFRONT,},PHAB_SLOPE}
\lab{486}{1014.3}{Step 059a-059c,Sample_type=PHAB_CHANB}
\lab{608.3}{1014.3}{{Step 059, 065-068},Sample_type=PHAB_CHANBFRONT}
\lab{526}{851.7}{Update 471,Sample_type=PHAB_CHANW,PHAB_CHANBFRONT,PHAB_CHANB}
\lab{509.3}{1182.3}{Update 538,Sample_type=,PHAB_CHANBFRONT}
\lab{1011.7}{963.3}{Steps 246-261,Sample_type=RIPLEG}
\lab{1168.3}{931}{Update 486,Sample_type=INVA}
\lab{1009}{1175}{Steps 386-387,Sample_type = INVA}
\lab{1106}{1228.3}{Update 481,Sample_type=INVA}
\lab{1457.7}{932.3}{Step 531,Sample_type=ENTE}
\lab{1551.7}{932.3}{Step 532,Sample_type=ENTE}
\lab{1455.7}{1042.7}{Step 530,Sample_type=PERI}
\lab{1548.3}{1042.7}{Step 529,Sample_type=PERI}
\lab{1460}{1171}{Step 507,Sample_type = FLOW}
\lab{1559.3}{1192.3}{Step 503,Sample_type=PHAB_THALW}
\lab{1666}{995}{Step 512,Sample_type=CALI}
\lab{1740}{995}{Step 511,Sample_type=CALI}
\lab{1664}{1108}{Step 525,Sample_type=FISH}
\lab{1760.7}{1108}{Step 526,Sample_type=FISH}
\lab{1667.7}{1302.7}{Step 504,Sample_type=PHAB_CHANFRONT}
\lab{1774}{1302.7}{Step 506,Sample_type=PHAB_CHANB}
\lab{1448.3}{1315}{Step 527a,Sample_type=PHAB_THAL}
\lab{1551.7}{1314}{Step 501,Sample_type=PHAB_CHANW}
\lab{1346}{1056.7}{Step 513,Sample_type=FIELDMEAS}
\lab{1345}{1308.3}{Step 505,Sample_type=PHAB_SLOPE}
% rotated labels
\node[lbl, anchor=center, rotate=90] at (491,735) {Steps 57-59a, 060-064};
\node[lbl, anchor=center, rotate=90] at (499.5,735) {Sample_type=PHAB_CHANW};
\node[lbl, anchor=center, rotate=90] at (549,1106.7) {Steps 046-046d};
\node[lbl, anchor=center, rotate=90] at (557,1106.7) {Sample_type =};
\node[lbl, anchor=center, rotate=90] at (565,1106.7) {PHAB_CHANBFRONT};
\node[lbl, anchor=center, rotate=90] at (860,1220) {Steps 452-453};
\node[lbl, anchor=center, rotate=90] at (868.3,1220) {Sample_type=PHAB_CHANFRONT};
\end{tikzpicture}
\end{document}
